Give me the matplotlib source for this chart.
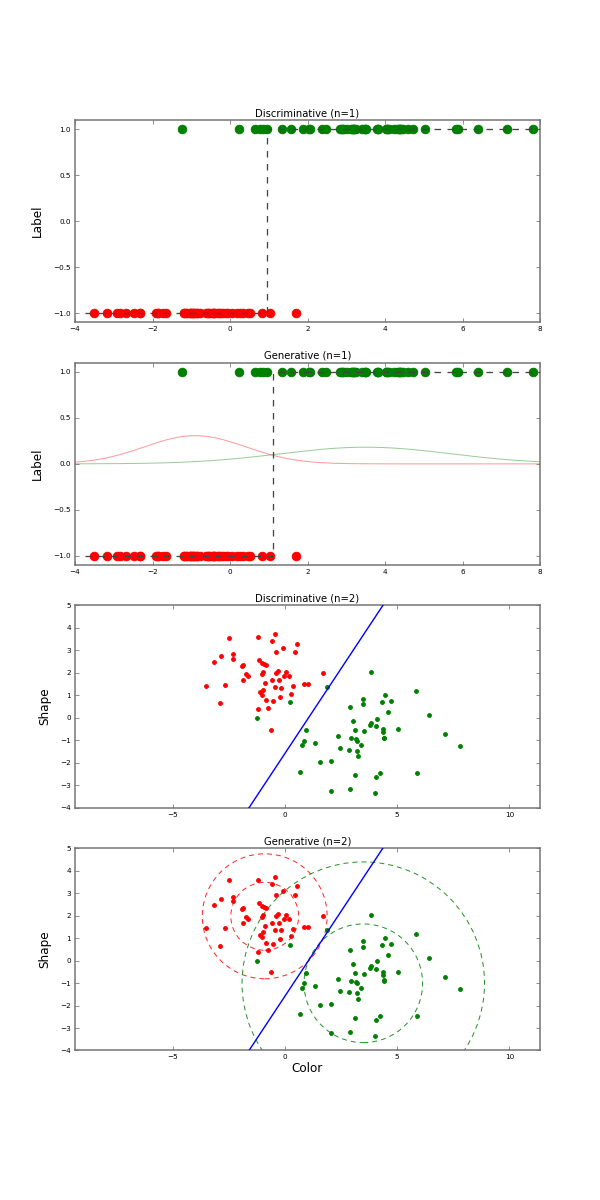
import numpy as np
import matplotlib
matplotlib.use('Agg')
import matplotlib.pyplot as plt
from matplotlib.patches import Circle

# ---------------- data ----------------
red_x = [-2.49, -1.20, -0.44, -0.58, 0.52, -0.10, -0.41, 0.46, -2.84, -2.31,
         -2.31, -3.17, -1.14, -1.04, -0.93, -0.86, -1.91, -1.86, -0.99, -1.02,
         -0.31, -0.38, 0.06, -0.06, 0.18, -1.72, -1.66, -1.86, -0.58, -0.28,
         -0.90, 1.70, 0.83, 1.02, -3.51, -2.68, -0.43, -0.19, 0.34, -0.96,
         -1.12, -1.01, 0.25, -0.22, -0.86, -0.52, -2.91, -1.18, -0.77, -0.61]
red_y = [3.57, 3.58, 3.71, 3.42, 3.30, 3.11, 2.91, 2.91, 2.75, 2.85,
         2.64, 2.48, 2.56, 2.45, 2.38, 2.33, 2.30, 2.35, 2.05, 1.95,
         2.07, 1.99, 2.04, 1.87, 1.87, 1.96, 1.87, 1.69, 1.69, 1.69,
         1.56, 1.98, 1.50, 1.50, 1.43, 1.44, 1.38, 1.35, 1.41, 1.26,
         1.16, 1.03, 1.08, 0.94, 0.80, 0.73, 0.64, 0.39, 0.45, -0.53]
green_x = [3.83, 1.89, 0.24, -1.24, 5.84, 4.47, 3.48, 4.72, 4.32, 3.49,
           2.90, 4.60, 6.41, 4.10, 3.02, 3.83, 3.79, 4.04, 4.35, 5.03,
           4.35, 3.52, 3.14, 0.96, 2.38, 2.94, 3.18, 3.20, 4.39, 4.41,
           7.14, 0.86, 0.78, 1.33, 3.40, 7.81, 2.47, 2.84, 3.20, 3.25,
           1.57, 2.03, 0.65, 4.22, 5.89, 3.12, 4.05, 2.90, 2.07, 4.02]
green_y = [2.02, 1.38, 0.71, -0.01, 1.19, 1.00, 0.86, 0.74, 0.70, 0.61,
           0.49, 0.24, 0.13, -0.03, -0.13, -0.24, -0.34, -0.37, -0.49, -0.49,
           -0.62, -0.59, -0.56, -0.55, -0.82, -0.91, -0.94, -1.01, -0.88, -0.91,
           -0.74, -1.01, -1.20, -1.11, -1.22, -1.25, -1.34, -1.41, -1.46, -1.69,
           -1.96, -1.93, -2.39, -2.47, -2.47, -2.54, -2.64, -3.18, -3.24, -3.36]

red_label = -1
green_label = 1

# 1D decision thresholds
thr_discriminative = 0.95
thr_generative = 1.10
step_range = [-3.75, 8.0]

# 1D class-conditional gaussians (generative)
red_mu, red_sigma = -0.90, 1.30
green_mu, green_sigma = 3.50, 2.20

# 2D linear boundary (two points on it)
boundary_x = [-1.60, 4.36]
boundary_y = [-4.0, 5.0]

# 2D gaussian contour circles
red_center = (-0.90, 1.97)
red_radii = [1.51, 2.78]
green_center = (3.49, -1.01)
green_radii = [2.64, 5.40]

titles = ['Discriminative (n=1)', 'Generative (n=1)',
          'Discriminative (n=2)', 'Generative (n=2)']
xticks_1d = [-4, -2, 0, 2, 4, 6, 8]
yticks_1d = [-1.0, -0.5, 0.0, 0.5, 1.0]
xticks_2d = [-5, 0, 5, 10]
yticks_2d = [-4, -3, -2, -1, 0, 1, 2, 3, 4, 5]

# ---------------- style ----------------
RED = (1.0, 0.0, 0.0)
GREEN = (0.0, 0.5, 0.0)
BLUE = (0.0, 0.0, 1.0)
SPINE = '0.45'

plt.rcParams['font.family'] = ['DejaVu Sans']
plt.rcParams['axes.unicode_minus'] = True

fig, axes = plt.subplots(4, 1, figsize=(600 / 72, 1200 / 72), dpi=72)
fig.subplots_adjust(left=0.125, right=0.9, top=0.9, bottom=0.1246, hspace=0.2)


def style_axes(ax):
    for s in ax.spines.values():
        s.set_color(SPINE)
        s.set_linewidth(1.5)
    ax.tick_params(direction='in', top=True, right=True, length=4, width=0.8,
                   color=SPINE, labelsize=7.3, pad=4)


def plot_1d(ax, thr, title):
    n_r = len(red_x)
    n_g = len(green_x)
    ax.plot(red_x, [red_label] * n_r, 'o', color=RED, mec=RED, ms=8.5,
            zorder=2, clip_on=False)
    ax.plot(green_x, [green_label] * n_g, 'o', color=GREEN, mec=GREEN, ms=8.5,
            zorder=2, clip_on=False)
    ax.plot([step_range[0], thr, thr, step_range[1]],
            [red_label, red_label, green_label, green_label],
            color='#444444', lw=1.3, dashes=(5, 5), zorder=3)
    ax.set_xlim(-4, 8)
    ax.set_ylim(-1.1, 1.1)
    ax.set_xticks(xticks_1d)
    ax.set_yticks(yticks_1d)
    ax.set_ylabel('Label', fontsize=12, labelpad=9)
    ax.set_title(title, fontsize=10, pad=4)
    style_axes(ax)


def gauss(x, mu, s):
    return np.exp(-0.5 * ((x - mu) / s) ** 2) / (s * np.sqrt(2 * np.pi))


# Panel 1
plot_1d(axes[0], thr_discriminative, titles[0])

# Panel 2
ax = axes[1]
xs = np.linspace(-4, 8, 400)
ax.plot(xs, gauss(xs, red_mu, red_sigma), color=RED, alpha=0.4, lw=1.0, zorder=1)
ax.plot(xs, gauss(xs, green_mu, green_sigma), color=GREEN, alpha=0.4, lw=1.0, zorder=1)
plot_1d(ax, thr_generative, titles[1])


def plot_2d(ax, title, circles=False, xlabel=False):
    ax.plot(red_x, red_y, 'o', color=RED, mec=RED, ms=3.8, zorder=2)
    ax.plot(green_x, green_y, 'o', color=GREEN, mec=GREEN, ms=3.8, zorder=2)
    ax.plot(boundary_x, boundary_y, color=BLUE, lw=1.4, zorder=3)
    if circles:
        for r in red_radii:
            ax.add_patch(Circle(red_center, r, fill=False, ec=RED, lw=1.0,
                                alpha=0.85, linestyle=(0, (5, 4)), zorder=1))
        for r in green_radii:
            ax.add_patch(Circle(green_center, r, fill=False, ec=GREEN, lw=1.0,
                                alpha=0.85, linestyle=(0, (5, 4)), zorder=1))
    ax.set_xlim(-9.35, 11.36)
    ax.set_ylim(-4, 5)
    ax.set_xticks(xticks_2d)
    ax.set_yticks(yticks_2d)
    ax.set_ylabel('Shape', fontsize=12, labelpad=9)
    if xlabel:
        ax.set_xlabel('Color', fontsize=12, labelpad=2)
    ax.set_title(title, fontsize=10, pad=4)
    style_axes(ax)


plot_2d(axes[2], titles[2])
plot_2d(axes[3], titles[3], circles=True, xlabel=True)

fig.savefig('out.png', dpi=72, facecolor='white')
